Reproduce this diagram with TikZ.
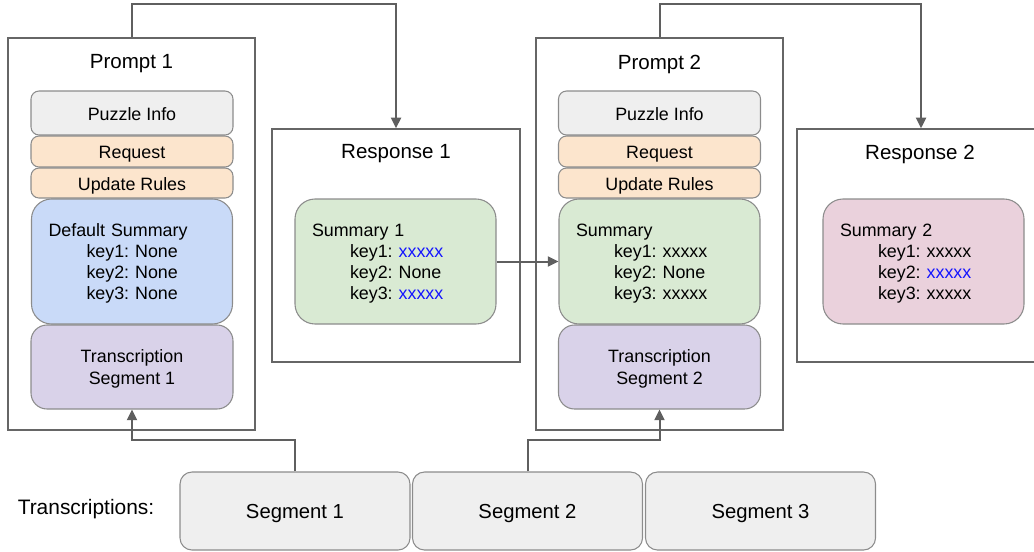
\documentclass[tikz,border=0pt]{standalone}
\usepackage{fontspec}
\setmainfont{Liberation Sans}
\usetikzlibrary{arrows.meta}
\definecolor{frameg}{RGB}{102,102,102}
\definecolor{partg}{RGB}{140,140,140}
\definecolor{arrg}{RGB}{95,95,95}
\definecolor{infog}{RGB}{239,239,239}
\definecolor{reqo}{RGB}{252,229,205}
\definecolor{sumb}{RGB}{201,218,248}
\definecolor{sumg}{RGB}{217,234,211}
\definecolor{sump}{RGB}{234,209,220}
\definecolor{trp}{RGB}{217,210,233}
\definecolor{xblue}{RGB}{20,20,255}
\newcommand{\kl}{\hspace*{28.5pt}}
\frenchspacing
\tikzset{every picture/.style={line width=0.75pt}}
\tikzset{
  frame/.style={draw=frameg, line width=1pt, inner sep=0pt},
  ttl/.style={inner sep=0pt, font=\fontsize{15.4}{18}\selectfont},
  pbox/.style={draw=partg, line width=0.8pt, rounded corners=6pt, inner sep=0pt, minimum width=151.5pt},
  part/.style={pbox, text height=1.1em, text depth=0pt, font=\fontsize{13.4}{16}\selectfont},
  summ/.style={pbox, rounded corners=15pt, minimum width=150.75pt, minimum height=93.75pt, text width=125.25pt, inner xsep=12.75pt, align=left, text depth=47.25pt, font=\fontsize{13.4}{15.75}\selectfont},
  trans/.style={pbox, fill=trp, rounded corners=12pt, minimum height=63pt, align=center, text depth=-1.5pt, font=\fontsize{13.4}{16.5}\selectfont},
  seg/.style={part, fill=infog, rounded corners=9pt, minimum width=172.5pt, minimum height=58.5pt, font=\fontsize{15.2}{18}\selectfont},
  arr/.style={draw=arrg, line width=1.5pt, -{Triangle[length=8pt,width=7.5pt]}}
}
\begin{document}
\begin{tikzpicture}[x=0.75pt,y=0.75pt,yscale=-1,xscale=1]
\useasboundingbox (0,0) rectangle (1034,551);

%Prompt 1
\node [frame, minimum width=185.25pt, minimum height=294pt] (prompt1) at (131.5,234) {};
\node [ttl] (p1ttl) at (131.5,64) {Prompt 1};
\node [part, fill=infog, minimum height=33pt] (info1) at (132,113) {Puzzle Info};
\node [part, fill=reqo, minimum height=23.25pt] (req1) at (132,151.5) {Request};
\node [part, fill=reqo, minimum height=22.5pt] (rules1) at (132,183) {Update Rules};
\node [summ, fill=sumb] (summ0) at (132,261.5) {Default Summary\\\kl key1: None\\\kl key2: None\\\kl key3: None};
\node [trans] (trans1) at (132,367) {Transcription\\Segment 1};

%Response 1
\node [frame, minimum width=186pt, minimum height=174.75pt] (resp1) at (396,245.5) {};
\node [ttl] (r1ttl) at (396,154) {Response 1};
\node [summ, fill=sumg] (summ1) at (395.5,261.5) {Summary 1\\\kl key1: \textcolor{xblue}{xxxxx}\\\kl key2: None\\\kl key3: \textcolor{xblue}{xxxxx}};

%Prompt 2
\node [frame, minimum width=185.25pt, minimum height=294pt] (prompt2) at (659.5,234) {};
\node [ttl] (p2ttl) at (659.5,64) {Prompt 2};
\node [part, fill=infog, minimum height=33pt] (info2) at (659.5,113) {Puzzle Info};
\node [part, fill=reqo, minimum height=23.25pt] (req2) at (659.5,151.5) {Request};
\node [part, fill=reqo, minimum height=22.5pt] (rules2) at (659.5,183) {Update Rules};
\node [summ, fill=sumg] (summ2) at (659.5,261.5) {Summary\\\kl key1: xxxxx\\\kl key2: None\\\kl key3: xxxxx};
\node [trans] (trans2) at (659.5,367) {Transcription\\Segment 2};

%Response 2
\node [frame, minimum width=186pt, minimum height=174.75pt] (resp2) at (921,245.5) {};
\node [ttl] (r2ttl) at (920,154) {Response 2};
\node [summ, fill=sump] (summ3) at (923.5,261.5) {Summary 2\\\kl key1: xxxxx\\\kl key2: \textcolor{xblue}{xxxxx}\\\kl key3: xxxxx};

%Transcriptions
\node [ttl, font=\fontsize{15.7}{18}\selectfont] (trlbl) at (86,509) {Transcriptions:};
\node [seg] (seg1) at (295,511) {Segment 1};
\node [seg] (seg2) at (527.5,511) {Segment 2};
\node [seg] (seg3) at (760.5,511) {Segment 3};

%Connectors
\draw [arr] (prompt1.north) -- ++(0,-33) -| (resp1.north);
\draw [arr] (prompt2.north) -- ++(0,-33) -| (resp2.north);
\draw [arr] (summ1.east) -- (summ2.west);
\draw [arr] (seg1.north) -- ++(0,-31) -| (trans1.south);
\draw [arr] (seg2.north) -- ++(0,-31) -| (trans2.south);

\end{tikzpicture}
\end{document}
